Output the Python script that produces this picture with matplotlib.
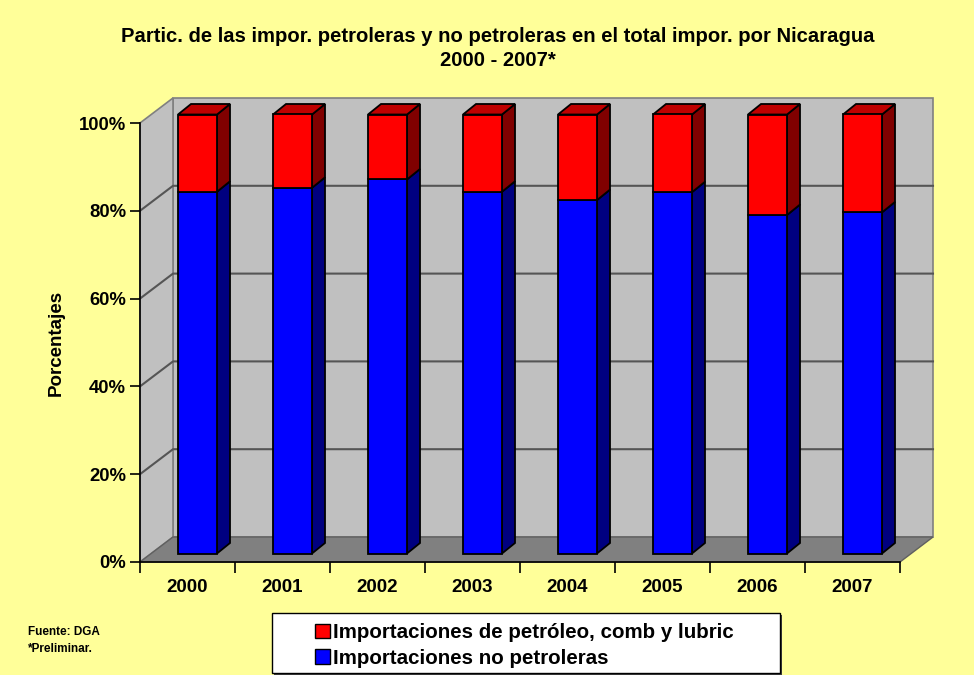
import matplotlib
matplotlib.use("Agg")
import matplotlib.pyplot as plt
from matplotlib.patches import Polygon, Rectangle, Patch

plt.rcParams['font.family'] = ['Liberation Sans', 'DejaVu Sans']
plt.rcParams['font.weight'] = 'bold'

# data
years = ['2000', '2001', '2002', '2003', '2004', '2005', '2006', '2007']
no_petroleras = [82.4, 83.3, 85.2, 82.4, 80.5, 82.3, 77.1, 77.7]
petroleras = [100 - v for v in no_petroleras]
y_ticks = [0, 20, 40, 60, 80, 100]

title_1 = "Partic. de las impor. petroleras y no petroleras en el total impor. por Nicaragua"
title_2 = "2000 - 2007*"
legend_labels = ['Importaciones de petróleo, comb y lubric', 'Importaciones no petroleras']

W, H = 974, 675
fig = plt.figure(figsize=(W / 100, H / 100), dpi=100)
fig.patch.set_facecolor('#FFFF99')

# front plane of the 3d box, in pixels
left_px, right_px, bot_px, top_px = 140, 900, 562, 123
ax = fig.add_axes([left_px / W, 1 - bot_px / H, (right_px - left_px) / W, (bot_px - top_px) / H])
ax.set_xlim(-0.5, len(years) - 0.5)
ax.set_ylim(0, 100)
ax.set_facecolor('none')

px_x = len(years) / (right_px - left_px)      # category units per pixel
px_y = 100 / (bot_px - top_px)                # percent per pixel

# wall depth
DX, DY = 33 * px_x, 25 * px_y
x0, x1 = -0.5, len(years) - 0.5

wall_kw = dict(clip_on=False, zorder=0)
ax.add_patch(Polygon([(x0 + DX, DY), (x1 + DX, DY), (x1 + DX, 100 + DY), (x0 + DX, 100 + DY)],
                     facecolor='#C0C0C0', edgecolor='#808080', lw=1.2, **wall_kw))
ax.add_patch(Polygon([(x0, 0), (x0 + DX, DY), (x0 + DX, 100 + DY), (x0, 100)],
                     facecolor='#C0C0C0', edgecolor='#808080', lw=1.2, **wall_kw))
ax.add_patch(Polygon([(x0, 0), (x1, 0), (x1 + DX, DY), (x0 + DX, DY)],
                     facecolor='#808080', edgecolor='#606060', lw=1.0, **wall_kw))
for v in y_ticks[1:-1]:
    ax.plot([x0, x0 + DX, x1 + DX], [v, v + DY, v + DY], color='#555555', lw=1.5,
            clip_on=False, zorder=1)

# bars: placed a bit into the depth
bx, by = 10 * px_x, 8.5 * px_y
bw = 39 * px_x
ddx, ddy = 13 * px_x, 10.5 * px_y
xs = [i + bx for i in range(len(years))]

edge = dict(edgecolor='black', linewidth=1.3)
ax.bar(xs, no_petroleras, width=bw, bottom=by, color='#0000FF', zorder=3, clip_on=False, **edge)
ax.bar(xs, petroleras, width=bw, bottom=[by + v for v in no_petroleras], color='#FF0000',
       zorder=3, clip_on=False, **edge)

for x, nb in zip(xs, no_petroleras):
    r = x + bw / 2
    l = x - bw / 2
    # side faces
    ax.add_patch(Polygon([(r, by), (r + ddx, by + ddy), (r + ddx, by + nb + ddy), (r, by + nb)],
                         facecolor='#000080', clip_on=False, zorder=2, **edge))
    ax.add_patch(Polygon([(r, by + nb), (r + ddx, by + nb + ddy), (r + ddx, by + 100 + ddy),
                          (r, by + 100)], facecolor='#800000', clip_on=False, zorder=2, **edge))
    # top face
    ax.add_patch(Polygon([(l, by + 100), (r, by + 100), (r + ddx, by + 100 + ddy),
                          (l + ddx, by + 100 + ddy)], facecolor='#C00000', clip_on=False,
                         zorder=2, **edge))

# axes
for s in ['top', 'right']:
    ax.spines[s].set_visible(False)
for s in ['left', 'bottom']:
    ax.spines[s].set_color('black')
    ax.spines[s].set_linewidth(1.2)
    ax.spines[s].set_zorder(5)

ax.set_yticks(y_ticks)
ax.set_yticklabels([f'{v}%' for v in y_ticks], fontsize=13.3, fontweight='bold')
ax.tick_params(axis='y', direction='out', length=7, width=1.2, pad=3)

ax.set_xticks([i - 0.5 for i in range(len(years) + 1)])
ax.set_xticklabels([])
ax.set_xticks(range(len(years)), minor=True)
ax.set_xticklabels(years, minor=True, fontsize=13.5, fontweight='bold')
ax.tick_params(axis='x', which='major', direction='out', length=8, width=1.2)
ax.tick_params(axis='x', which='minor', length=0, pad=12)

ax.set_ylabel('Porcentajes', fontsize=13.5, fontweight='bold', labelpad=10)

fig.text(498 / W, 1 - 37 / H, title_1, ha='center', va='center', fontsize=14.6, fontweight='bold')
fig.text(498 / W, 1 - 60 / H, title_2, ha='center', va='center', fontsize=14.6, fontweight='bold')

fig.text(28 / W, 1 - 632 / H, 'Fuente: DGA', fontsize=8.5, fontweight='bold', va='center')
fig.text(28 / W, 1 - 649 / H, '*Preliminar.', fontsize=8.5, fontweight='bold', va='center')

# legend box
fig.patches.append(Rectangle((274 / W, 1 - 675 / H), 508 / W, 60 / H, transform=fig.transFigure,
                             facecolor='#404040', edgecolor='none', zorder=1))
fig.patches.append(Rectangle((272 / W, 1 - 673 / H), 508 / W, 60 / H, transform=fig.transFigure,
                             facecolor='white', edgecolor='black', lw=1.0, zorder=2))
handles = [Patch(facecolor='#FF0000', edgecolor='black'), Patch(facecolor='#0000FF', edgecolor='black')]
fig.legend(handles, legend_labels, loc='upper left', bbox_to_anchor=(303 / W, 1 - 611 / H),
           frameon=False, prop={'size': 14.8, 'weight': 'bold'}, handlelength=0.7,
           handleheight=0.7, handletextpad=0.15, labelspacing=0.3, borderpad=0.1)

fig.savefig('out.png', dpi=100, facecolor=fig.get_facecolor())
